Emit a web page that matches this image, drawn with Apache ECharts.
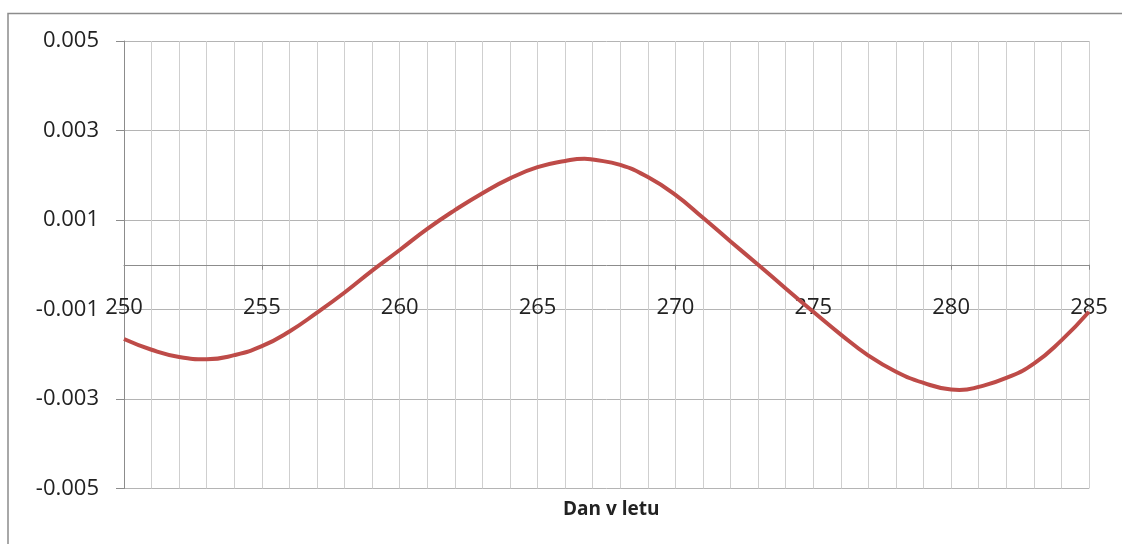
<!DOCTYPE html>
<html>
<head>
<meta charset="utf-8">
<title>Dan v letu</title>
<script src="https://cdn.jsdelivr.net/npm/echarts@6/dist/echarts.min.js"></script>
<style>
  html, body { margin: 0; padding: 0; background: #fff; }
  #chart { width: 1122px; height: 544px; }
</style>
</head>
<body>
<div id="chart"></div>
<script>
// dan v letu (x) in vrednosti krivulje (y), odčitano s slike
const days = [250, 251, 252, 253, 254, 255, 256, 257, 258, 259,
  260, 261, 262, 263, 264, 265, 266, 266.7, 267, 268, 269,
  270, 271, 272, 273, 274, 275, 276, 277, 278, 279,
  280, 280.3, 281, 282, 283, 284, 285]
const values = [-0.00166, -0.00190, -0.00206, -0.00211, -0.00202, -0.00182, -0.00149, -0.00107, -0.00062, -0.00013,
  0.00033, 0.00080, 0.00122, 0.00160, 0.00193, 0.00218, 0.00232, 0.00237, 0.00235, 0.00223, 0.00196,
  0.00156, 0.00105, 0.00052, 0.00000, -0.00053, -0.00105, -0.00156, -0.00203, -0.00239, -0.00264,
  -0.00279, -0.00280, -0.00273, -0.00253, -0.00221, -0.00169, -0.00105]
const yTicks = [-0.005, -0.003, -0.001, 0.001, 0.003, 0.005]
const xName = 'Dan v letu'

const font = "'Open Sans', 'DejaVu Sans', sans-serif"
const gridTop = 41
const gridBottom = 55.5
const plotHeight = 544 - gridTop - gridBottom

const chart = echarts.init(document.getElementById('chart'))
const option = {
  animation: false,
  title: {
    text: xName,
    left: 558,
    top: 495,
    textStyle: {fontFamily: font, fontSize: 19, fontWeight: 'bold', color: '#222'}
  },
  graphic: [{
    type: 'rect',
    shape: {x: 8, y: 13.5, width: 1300, height: 700},
    style: {fill: 'none', stroke: '#8c8c8c', lineWidth: 1.5},
    silent: true
  }],
  grid: {
    left: 124,
    right: 33,
    top: gridTop,
    bottom: gridBottom
  },
  xAxis: {
    type: 'value',
    min: 250,
    max: 285,
    interval: 5,
    // os x leži na ničli, skupaj z oznakami
    offset: -plotHeight * (0 - yTicks[0]) / (yTicks[yTicks.length - 1] - yTicks[0]),
    axisLine: {onZero: false, lineStyle: {color: '#8c8c8c', width: 1}},
    axisTick: {show: true, length: 5, lineStyle: {color: '#8c8c8c'}},
    axisLabel: {
      margin: 32,
      fontFamily: font,
      fontSize: 22,
      color: '#222'
    },
    splitLine: {show: true, lineStyle: {color: '#cfcfcf', width: 1}},
    minorTick: {show: false, splitNumber: 5},
    minorSplitLine: {show: true, lineStyle: {color: '#cfcfcf', width: 1}}
  },
  yAxis: {
    type: 'value',
    min: yTicks[0],
    max: yTicks[yTicks.length - 1],
    interval: 0.002,
    axisLine: {show: true, onZero: false, lineStyle: {color: '#8c8c8c', width: 1}},
    axisTick: {show: true, length: 8, lineStyle: {color: '#8c8c8c'}},
    axisLabel: {
      margin: 25,
      fontFamily: font,
      fontSize: 22,
      color: '#222',
      formatter: v => v.toFixed(3)
    },
    splitLine: {show: true, lineStyle: {color: '#b4b4b4', width: 1}}
  },
  series: [{
    type: 'line',
    data: days.map((d, i) => [d, values[i]]),
    smooth: true,
    showSymbol: false,
    lineStyle: {color: '#be4b48', width: 4},
    z: 5
  }]
}
chart.setOption(option)
</script>
</body>
</html>
